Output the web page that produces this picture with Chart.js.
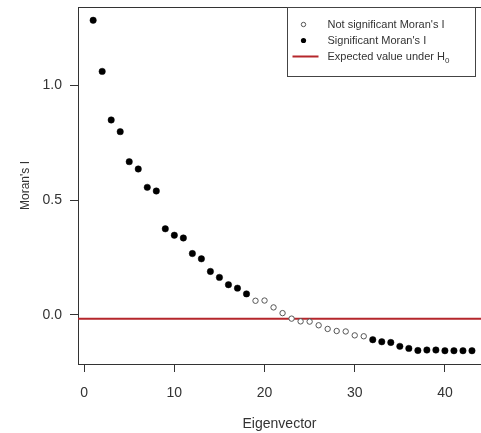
<!DOCTYPE html>
<html><head><meta charset="utf-8">
<script src="https://cdn.jsdelivr.net/npm/chart.js@4"></script>
<style>html,body{margin:0;padding:0;background:#fff;overflow:hidden}canvas{display:block}</style>
</head><body>
<canvas id="c" width="481" height="433"></canvas>
<script>
// values
const EIGEN=[1,2,3,4,5,6,7,8,9,10,11,12,13,14,15,16,17,18,19,20,21,22,23,24,25,26,27,28,29,30,31,32,33,34,35,36,37,38,39,40,41,42,43];
const MORAN_I=[1.285,1.062,0.850,0.799,0.668,0.636,0.556,0.540,0.375,0.347,
  0.335,0.267,0.244,0.189,0.163,0.131,0.116,0.091,0.061,0.062,
  0.032,0.007,-0.017,-0.029,-0.030,-0.046,-0.062,-0.071,-0.073,-0.090,
  -0.094,-0.109,-0.118,-0.121,-0.138,-0.147,-0.156,-0.154,-0.154,-0.157,
  -0.157,-0.157,-0.157];
// 1 = significant, 0 = not significant
const SIGNIF=[1,1,1,1,1,1,1,1,1,1,1,1,1,1,1,1,1,1,0,0,0,0,0,0,0,0,0,0,0,0,0,1,1,1,1,1,1,1,1,1,1,1,1];
const EXPECTED_I=-0.017;
const X_TICKS=[0,10,20,30,40];
const Y_TICKS=[0,0.5,1];
const LEG_LABELS=["Not significant Moran's I","Significant Moran's I","Expected value under H"];

const FONT='"Liberation Sans", Arial, sans-serif';
const TXT="#333";

const pts=f=>EIGEN.map((x,i)=>({x,y:MORAN_I[i],s:SIGNIF[i]})).filter(p=>f(p.s));

// box top edge + expected-value line
const frame={id:"frame",beforeDatasetsDraw(ch){
  const {ctx,chartArea:a}=ch,y=ch.scales.y.getPixelForValue(EXPECTED_I);
  ctx.save();
  ctx.strokeStyle="#333";ctx.lineWidth=1;
  ctx.beginPath();ctx.moveTo(a.left,a.top+0.5);ctx.lineTo(a.right,a.top+0.5);ctx.stroke();
  ctx.strokeStyle="#b5262b";ctx.lineWidth=2;
  ctx.beginPath();ctx.moveTo(a.left,y);ctx.lineTo(a.right,y);ctx.stroke();
  ctx.restore();
}};

// R-style legend in the top right
const rleg={id:"rleg",afterDraw(ch){
  const {ctx,chartArea:a}=ch;
  const r=a.right-5.5,t=a.top+0.5,w=188,h=69,l=r-w;
  ctx.save();
  ctx.fillStyle="#fff";ctx.fillRect(l,t,w,h);
  ctx.strokeStyle="#444";ctx.lineWidth=1;ctx.strokeRect(l,t,w,h);
  const rows=[t+17,t+33,t+49],sx=l+16;
  ctx.beginPath();ctx.arc(sx,rows[0],2.2,0,Math.PI*2);ctx.fillStyle="#fff";ctx.fill();ctx.strokeStyle="#555";ctx.stroke();
  ctx.beginPath();ctx.arc(sx,rows[1],2.6,0,Math.PI*2);ctx.fillStyle="#000";ctx.fill();
  ctx.strokeStyle="#b5262b";ctx.lineWidth=2;ctx.beginPath();ctx.moveTo(l+5,rows[2]);ctx.lineTo(l+31,rows[2]);ctx.stroke();
  ctx.fillStyle=TXT;ctx.font="11px "+FONT;ctx.textBaseline="middle";ctx.textAlign="left";
  LEG_LABELS.forEach((s,i)=>ctx.fillText(s,l+40,rows[i]));
  const sw=ctx.measureText(LEG_LABELS[2]).width;
  ctx.font="8px "+FONT;ctx.fillText("0",l+40+sw,rows[2]+4);
  ctx.restore();
}};

new Chart(document.getElementById("c"),{
  type:"scatter",
  data:{datasets:[
    {label:"Not significant Moran's I",data:pts(s=>!s),pointRadius:2.7,backgroundColor:"#fff",borderColor:"#555",borderWidth:1},
    {label:"Significant Moran's I",data:pts(s=>s),pointRadius:3.2,backgroundColor:"#000",borderColor:"#000",borderWidth:0.5}
  ]},
  options:{responsive:false,animation:false,events:[],
    layout:{autoPadding:false,padding:{top:7,right:0,left:0,bottom:0}},
    plugins:{legend:{display:false},tooltip:{enabled:false}},
    scales:{
      x:{type:"linear",min:-0.68,max:44,
        afterBuildTicks:s=>{s.ticks=X_TICKS.map(v=>({value:v}))},
        afterFit:s=>{s.height=69;s.paddingLeft=0;s.paddingRight=0},
        ticks:{color:TXT,font:{family:FONT,size:14},padding:13,maxRotation:0,autoSkip:false,callback:v=>String(v)},
        grid:{drawOnChartArea:false,tickLength:8,color:"#333"},
        border:{color:"#333"},
        title:{display:true,text:"Eigenvector",color:TXT,font:{family:FONT,size:14},padding:{top:0,bottom:0}}},
      y:{min:-0.215,max:1.343,
        afterBuildTicks:s=>{s.ticks=Y_TICKS.map(v=>({value:v}))},
        afterFit:s=>{s.width=78;s.paddingTop=0;s.paddingBottom=0},
        ticks:{color:TXT,font:{family:FONT,size:14},padding:8,callback:v=>v.toFixed(1)},
        grid:{drawOnChartArea:false,tickLength:8,color:"#333"},
        border:{color:"#333"},
        title:{display:true,text:"Moran's I",color:TXT,font:{family:FONT,size:12},padding:{top:18,bottom:0}}}
    }
  },
  plugins:[frame,rleg]
});
</script>
</body></html>
